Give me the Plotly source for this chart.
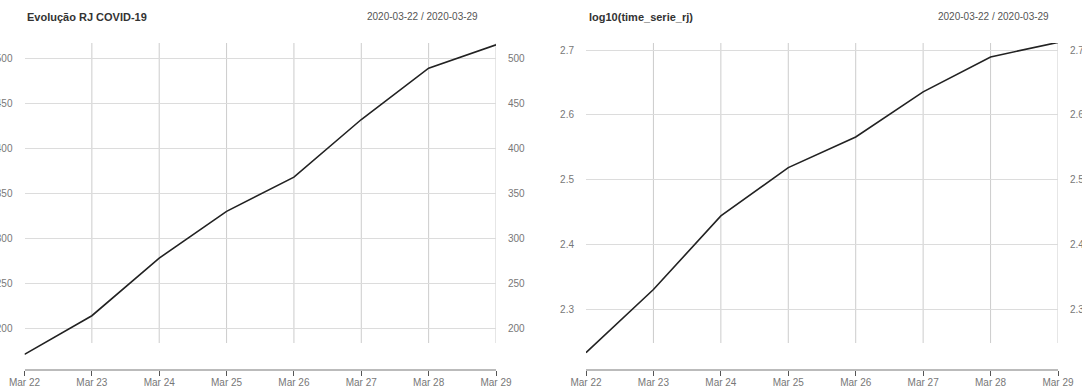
import numpy as np
import pandas as pd
import plotly.graph_objects as go

# ---- data ----
dates = pd.date_range("2020-03-22", "2020-03-29", freq="D")
cases_rj = [171, 214, 278, 330, 368, 432, 489, 515]
log_cases = list(np.log10(cases_rj))
left_title = "Evolução RJ COVID-19"
right_title = "log10(time_serie_rj)"
period_label = "2020-03-22 / 2020-03-29"
left_yticks = [200, 250, 300, 350, 400, 450, 500]
right_yticks = [2.3, 2.4, 2.5, 2.6, 2.7]
tick_text = [d.strftime("%b %d") + "<br>" + d.strftime("%Y") for d in dates]

W, H = 1082, 390
FONT = "Liberation Sans, Arial, sans-serif"
GRID = "#dcdcdc"
VGRID = "#cccccc"
LABEL = "#777777"

def px(xp):
    return xp / W

def py(yp):
    return (H - yp) / H

top_px, bot_px = 43, 370
ydom = [py(bot_px), py(top_px)]
left_dom = [px(24.5), px(496)]
right_dom = [px(586), px(1058)]

fig = go.Figure()

line_style = dict(color="#222222", width=1.6)
fig.add_trace(go.Scatter(x=dates, y=cases_rj, mode="lines", line=line_style,
                         xaxis="x", yaxis="y", showlegend=False))
fig.add_trace(go.Scatter(x=dates, y=cases_rj, mode="lines", line=dict(width=0, color="rgba(0,0,0,0)"),
                         xaxis="x", yaxis="y3", showlegend=False, hoverinfo="skip"))
fig.add_trace(go.Scatter(x=dates, y=log_cases, mode="lines", line=line_style,
                         xaxis="x2", yaxis="y2", showlegend=False))
fig.add_trace(go.Scatter(x=dates, y=log_cases, mode="lines", line=dict(width=0, color="rgba(0,0,0,0)"),
                         xaxis="x2", yaxis="y4", showlegend=False, hoverinfo="skip"))

xcommon = dict(type="date", range=[dates[0], dates[-1]], tickvals=list(dates), ticktext=tick_text,
               showgrid=False, zeroline=False, showline=True, linecolor="#bbbbbb", linewidth=1.5,
               ticks="outside", ticklen=5, tickcolor="#555555", tickwidth=1, automargin=False,
               ticklabelstandoff=-2,
               tickfont=dict(family=FONT, size=10, color=LABEL), anchor="free", position=ydom[0])

left_range = [153.7, 517.0]
right_range = [2.2063, 2.7108]

ycommon = dict(showgrid=True, gridcolor=GRID, gridwidth=1, zeroline=False, showline=False,
               ticks="", tickfont=dict(family=FONT, size=10, color=LABEL), domain=ydom,
               ticklabelstandoff=11, automargin=False)

fig.update_layout(
    width=W, height=H, margin=dict(l=0, r=0, t=0, b=0, autoexpand=False),
    paper_bgcolor="white", plot_bgcolor="white", showlegend=False,
    xaxis=dict(domain=left_dom, **xcommon),
    xaxis2=dict(domain=right_dom, **xcommon),
    yaxis=dict(anchor="x", side="left", range=left_range, tickvals=left_yticks, **ycommon),
    yaxis3=dict(anchor="x", side="right", overlaying="y", range=left_range, tickvals=left_yticks,
                **{**ycommon, "showgrid": False}),
    yaxis2=dict(anchor="x2", side="left", range=right_range, tickvals=right_yticks,
                tickformat=".1f", **ycommon),
    yaxis4=dict(anchor="x2", side="right", overlaying="y2", range=right_range, tickvals=right_yticks,
                tickformat=".1f", **{**ycommon, "showgrid": False}),
)

# vertical grid lines (xts style, short of the bottom)
vg_bottom = (bot_px - 343) / (bot_px - top_px)
shapes = []
for xr, yr in (("x", "y"), ("x2", "y2")):
    for d in dates[1:]:
        shapes.append(dict(type="line", xref=xr, yref=yr + " domain", x0=d, x1=d, y0=vg_bottom, y1=1,
                           line=dict(color=VGRID, width=1), layer="below"))
fig.update_layout(shapes=shapes)

ann = []
ann.append(dict(text="<b>" + left_title + "</b>", x=px(24.5), y=py(17), xref="paper", yref="paper",
                xanchor="left", yanchor="middle", showarrow=False,
                font=dict(family=FONT, size=11, color="#333333")))
ann.append(dict(text=period_label, x=px(480), y=py(17), xref="paper", yref="paper",
                xanchor="right", yanchor="middle", showarrow=False,
                font=dict(family=FONT, size=10, color="#555555")))
ann.append(dict(text="<b>" + right_title + "</b>", x=px(586.5), y=py(17), xref="paper", yref="paper",
                xanchor="left", yanchor="middle", showarrow=False,
                font=dict(family=FONT, size=11, color="#333333")))
ann.append(dict(text=period_label, x=px(1051), y=py(17), xref="paper", yref="paper",
                xanchor="right", yanchor="middle", showarrow=False,
                font=dict(family=FONT, size=10, color="#555555")))
fig.update_layout(annotations=ann)

fig.write_html("out.html", config={"displayModeBar": False},
               post_script="document.body.style.margin='0';document.body.style.overflow='hidden';")
